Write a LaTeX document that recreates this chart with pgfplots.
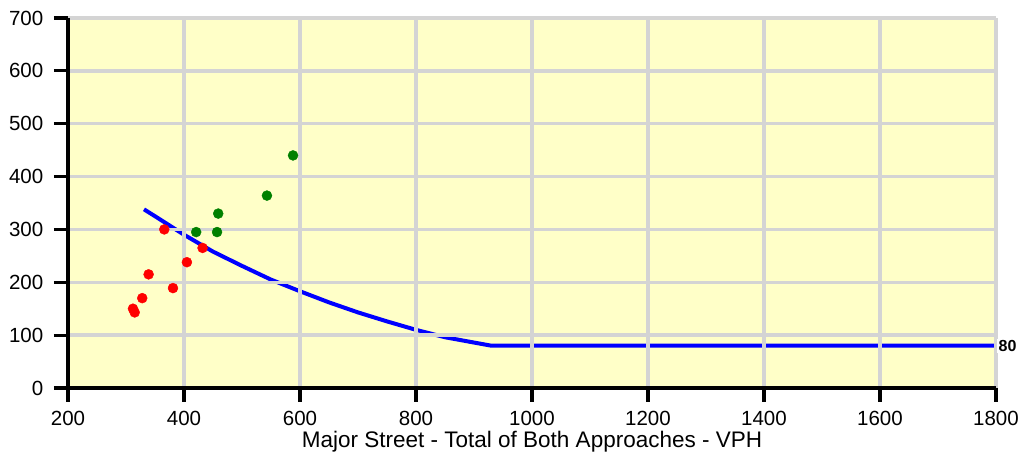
\documentclass[border=0pt]{standalone}
\usepackage{pgfplots}
\pgfplotsset{compat=1.18}
\usepackage{fontspec}
\setmainfont{Liberation Sans}
\definecolor{bgc}{RGB}{255,255,200}
\definecolor{gridc}{RGB}{212,212,212}
\definecolor{dotgreen}{RGB}{0,128,0}
\begin{document}
\begin{tikzpicture}
\path[use as bounding box] (-68pt,-74pt) rectangle (950pt,388pt);
\begin{axis}[
  scale only axis, width=928pt, height=370pt,
  at={(0pt,0pt)}, anchor=south west,
  xmin=200, xmax=1800, ymin=0, ymax=700,
  xtick={200,400,...,1800}, ytick={0,100,...,700},
  axis background/.style={fill=bgc},
  grid=major, major grid style={gridc, line width=3.3pt},
  axis on top,
  axis x line*=bottom, axis y line*=left,
  axis line style={line width=4.2pt, black, -},
  every outer x axis line/.append style={-},
  every outer y axis line/.append style={-},
  tick align=outside, major tick length=14pt,
  every tick/.style={black, line width=3.2pt},
  /pgf/number format/assume math mode=true,
  /pgf/number format/1000 sep={},
  tick label style={font=\fontsize{20.5}{23}\selectfont, inner sep=0pt},
  every x tick label/.append style={anchor=north, yshift=-9pt},
  every y tick label/.append style={anchor=east, xshift=-10.5pt},
  xlabel={Major Street - Total of Both Approaches - VPH},
  xlabel style={font=\fontsize{22.5}{25}\selectfont, at={(axis description cs:0.5,0)},
    anchor=base, yshift=-59.3pt, inner sep=0pt},
  clip=false,
]
% threshold curve
\addplot[blue, line width=4pt] coordinates {
  (331,338) (350,325) (400,290) (450,258) (500,231) (550,205) (600,183)
  (650,162) (700,143) (750,126) (800,110) (850,96) (900,86) (930,80) (1800,80)
};
% points below curve
\addplot[only marks, mark=*, mark size=5pt, red, mark options={draw=none, fill=red}] coordinates {
  (312,150) (315,143) (328,170) (339,215) (366,300) (381,189) (405,238) (432,265)
};
% points above curve
\addplot[only marks, mark=*, mark size=5pt, dotgreen, mark options={draw=none, fill=dotgreen}] coordinates {
  (421,295) (457,295) (459,330) (543,364) (588,440)
};
% end label
\addplot[draw=none, mark=none, nodes near coords={\textbf{80}},
  nodes near coords style={anchor=west, fill=white, inner sep=1.5pt, xshift=1pt,
    font=\fontsize{16}{18}\selectfont}] coordinates {(1800,80)};
\end{axis}
\end{tikzpicture}
\end{document}
